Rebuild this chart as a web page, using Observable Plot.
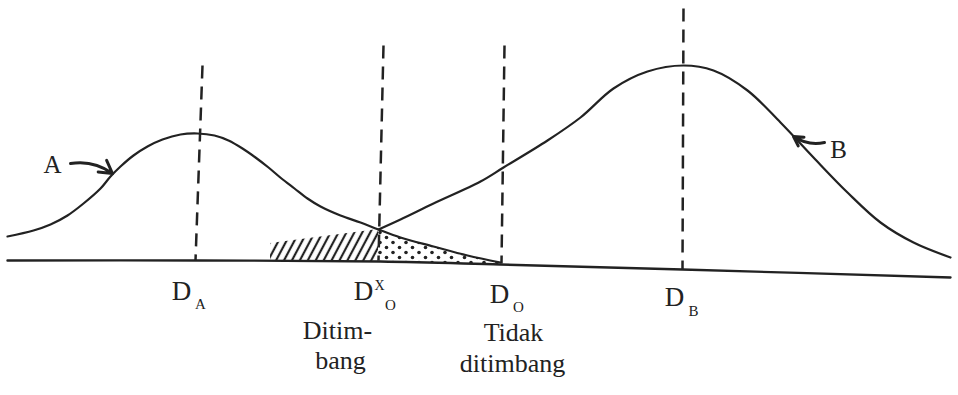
<!DOCTYPE html>
<html>
<head>
<meta charset="utf-8">
<script src="https://cdn.jsdelivr.net/npm/d3@7"></script>
<script src="https://cdn.jsdelivr.net/npm/@observablehq/plot@0.6"></script>
<style>
  html, body { margin: 0; padding: 0; background: #fff; }
  #chart svg { display: block; }
  #chart svg text { font-family: "Liberation Serif", "Times New Roman", serif !important; }
</style>
</head>
<body>
<div id="chart"></div>
<script>
// Curve A (demand distribution A): x position, height above bottom
const curveAX = [7,33,50,67,83,100,110,120,133,147,162,180,197,214,228,242,255,268,281,294,307,320,340,360,378,400,433,467,500];
const curveAH = [159,165,171,180,192,207,219,229,240,249,256,261,262,260,255,247,238,228,217,207,197,189,180,173,166,158,149,140,133];
// Curve B (visible part, from intersection)
const curveBX = [378,400,433,480,503,547,580,613,647,683,713,747,780,813,847,880,913,950];
const curveBH = [166,176,192,214,228,255,278,307,324,330,325,305,273,238,203,173,153,138];
// Left tail of B under A (hatched area)
const hatchX = [270,378];
const hatchTop = [152,166];
const hatchBottom = [135,134];
// Dotted area under A between D^X_O and D_O
const dotX = [378,400,433,467,500];
const dotTop = [166,158,149,140,133];
const dotBottom = [134,134,133,132,131];
// Horizontal axis line
const baseX = [7,200,380,500,682,950];
const baseH = [135,135,134,131,126,118];
// Dashed reference lines D_A, D^X_O, D_O, D_B
const dashX1 = [202,383,504,683];
const dashY1 = [330,350,350,387];
const dashX2 = [195,378,501,682];
const dashY2 = [135,135,132,126];
// Labels
const mainLabels = ["D","D","D","D"];
const mainX = [181,363,499,674];
const mainY = [96,96,93,90];
const subLabels = ["A","O","O","B"];
const subX = [200,390,518,693];
const subY = [87,86,84,80];
const supLabels = ["X"];
const supX = [379];
const supY = [106];
const descLabels = ["Ditim-","bang","Tidak","ditimbang"];
const descX = [337,340,513,512];
const descY = [57,27,55,24];
const curveLabels = ["A","B"];
const curveLabelX = [52,838];
const curveLabelY = [223,238];
// Arrows pointing to curves
const arrowX1 = [70,824];
const arrowY1 = [232,253];
const arrowX2 = [112,793];
const arrowY2 = [222,259];
const arrowBend = [14,-45];

const zip = (xs, ys, extra = {}) => xs.map((x, i) => {
  const o = {x, y: ys[i]};
  for (const k in extra) o[k] = extra[k][i];
  return o;
});

const ink = "#222";
const serif = "'Liberation Serif', 'Times New Roman', serif";

const chart = Plot.plot({
  width: 958,
  height: 395,
  margin: 0,
  x: {domain: [0, 958], axis: null},
  y: {domain: [0, 395], axis: null},
  style: {background: "#fff", fontFamily: serif},
  marks: [
    Plot.areaY(zip(hatchX, hatchTop, {b: hatchBottom}), {x: "x", y1: "b", y2: "y", fill: "url(#hatch)"}),
    Plot.areaY(zip(dotX, dotTop, {b: dotBottom}), {x: "x", y1: "b", y2: "y", fill: "url(#dots)", curve: "catmull-rom"}),
    Plot.line(zip(baseX, baseH), {x: "x", y: "y", stroke: ink, strokeWidth: 2.4, curve: "catmull-rom"}),
    Plot.link(zip(dashX1, dashY1, {x2: dashX2, y2: dashY2}), {x1: "x", y1: "y", x2: "x2", y2: "y2", stroke: ink, strokeWidth: 2.5, strokeDasharray: "13,8"}),
    Plot.line(zip(curveAX, curveAH), {x: "x", y: "y", stroke: ink, strokeWidth: 2.2, curve: "catmull-rom"}),
    Plot.line(zip(curveBX, curveBH), {x: "x", y: "y", stroke: ink, strokeWidth: 2.2, curve: "catmull-rom"}),
    Plot.arrow(zip(arrowX1, arrowY1, {x2: arrowX2, y2: arrowY2, bend: arrowBend}), {x1: "x", y1: "y", x2: "x2", y2: "y2", bend: true, stroke: ink, strokeWidth: 3, headLength: 10}),
    Plot.text(zip(mainX, mainY, {t: mainLabels}), {x: "x", y: "y", text: "t", fontSize: 27, fontFamily: serif, fill: ink, lineAnchor: "bottom"}),
    Plot.text(zip(subX, subY, {t: subLabels}), {x: "x", y: "y", text: "t", fontSize: 15, fontFamily: serif, fill: ink, lineAnchor: "bottom"}),
    Plot.text(zip(supX, supY, {t: supLabels}), {x: "x", y: "y", text: "t", fontSize: 14, fontFamily: serif, fill: ink, lineAnchor: "bottom"}),
    Plot.text(zip(descX, descY, {t: descLabels}), {x: "x", y: "y", text: "t", fontSize: 26, fontFamily: serif, fill: ink, lineAnchor: "bottom"}),
    Plot.text(zip(curveLabelX, curveLabelY, {t: curveLabels}), {x: "x", y: "y", text: "t", fontSize: 25, fontFamily: serif, fill: ink, lineAnchor: "bottom"})
  ]
});

// Patterns for the hatched and dotted regions
const defs = d3.select(chart).insert("defs", ":first-child");
const hatch = defs.append("pattern").attr("id", "hatch").attr("patternUnits", "userSpaceOnUse")
  .attr("width", 7).attr("height", 7).attr("patternTransform", "rotate(28)");
hatch.append("line").attr("x1", 2).attr("y1", 0).attr("x2", 2).attr("y2", 7).attr("stroke", ink).attr("stroke-width", 2.2);
const dots = defs.append("pattern").attr("id", "dots").attr("patternUnits", "userSpaceOnUse")
  .attr("width", 13).attr("height", 10);
dots.append("circle").attr("cx", 3).attr("cy", 2.5).attr("r", 1.8).attr("fill", ink);
dots.append("circle").attr("cx", 9.5).attr("cy", 7.5).attr("r", 1.8).attr("fill", ink);

document.getElementById("chart").appendChild(chart);
</script>
</body>
</html>
